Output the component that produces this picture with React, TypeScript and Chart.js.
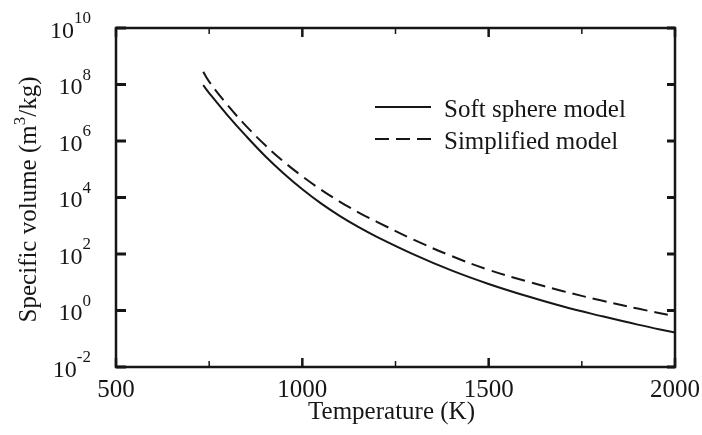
import React, { useEffect, useRef } from "react";
import { Chart, registerables } from "chart.js";

Chart.register(...registerables);

// Temperature (K)
const temperatures = [734, 750, 800, 850, 900, 950, 1000, 1050, 1100, 1150, 1200, 1300, 1400, 1500, 1600, 1700, 1800, 1900, 2000];
// Specific volume (m^3/kg) — soft sphere model
const softSphere = [9.5e7, 5.0e7, 7.94e6, 1.45e6, 2.95e5, 7.08e4, 1.95e4, 6.17e3, 2.24e3, 912, 407, 95.5, 26.3, 8.7, 3.31, 1.38, 0.646, 0.316, 0.166];
// Specific volume (m^3/kg) — simplified model
const simplified = [2.8e8, 1.26e8, 1.82e7, 3.3e6, 7.2e5, 1.86e5, 5.6e4, 1.9e4, 7.2e3, 3.0e3, 1.38e3, 316, 85, 27.5, 11, 4.8, 2.3, 1.17, 0.63];

const xMajorTicks = [500, 1000, 1500, 2000];
const xMinorTicks = [750, 1250, 1750];
const yTickExponents = [-2, 0, 2, 4, 6, 8, 10];

const seriesNames = ["Soft sphere model", "Simplified model"];
const xTitle = "Temperature (K)";
const yTitleMain = "Specific volume (m";
const yTitleSup = "3";
const yTitleEnd = "/kg)";

const FONT = '"Liberation Serif", "Times New Roman", serif';
const INK = "#161616";
const DASH = [14, 7];

const framePlugin = {
  id: "framePlugin",
  afterDraw(chart: any) {
    const ctx: CanvasRenderingContext2D = chart.ctx;
    const { left, right, top, bottom } = chart.chartArea;
    const xs = chart.scales.x;
    const ys = chart.scales.y;
    ctx.save();
    ctx.strokeStyle = INK;
    ctx.fillStyle = INK;

    // frame
    ctx.lineWidth = 2.5;
    ctx.strokeRect(left, top, right - left, bottom - top);

    // x ticks
    const drawXTick = (v: number, len: number, w: number) => {
      const px = xs.getPixelForValue(v);
      ctx.lineWidth = w;
      ctx.beginPath();
      ctx.moveTo(px, bottom);
      ctx.lineTo(px, bottom - len);
      ctx.moveTo(px, top);
      ctx.lineTo(px, top + len);
      ctx.stroke();
    };
    xMajorTicks.forEach((v) => drawXTick(v, 9, 2.5));
    xMinorTicks.forEach((v) => drawXTick(v, 6, 1.5));

    // y ticks
    yTickExponents.forEach((e) => {
      const py = ys.getPixelForValue(Math.pow(10, e));
      ctx.lineWidth = 3;
      ctx.beginPath();
      ctx.moveTo(left, py);
      ctx.lineTo(left + 10, py);
      ctx.moveTo(right, py);
      ctx.lineTo(right - 8, py);
      ctx.stroke();
    });

    // x tick labels
    ctx.font = `25px ${FONT}`;
    ctx.textAlign = "center";
    ctx.textBaseline = "alphabetic";
    xMajorTicks.forEach((v) => {
      ctx.fillText(String(v), xs.getPixelForValue(v), bottom + 30);
    });

    // y tick labels 10^e
    const labelRight = left - 25;
    yTickExponents.forEach((e) => {
      const py = ys.getPixelForValue(Math.pow(10, e));
      const expStr = e < 0 ? "-" + Math.abs(e) : String(e);
      ctx.textAlign = "right";
      ctx.font = `17px ${FONT}`;
      const ew = ctx.measureText(expStr).width;
      ctx.fillText(expStr, labelRight, py - 5);
      ctx.font = `24px ${FONT}`;
      ctx.fillText("10", labelRight - ew, py + 9.5);
    });

    // x title
    ctx.font = `25px ${FONT}`;
    ctx.textAlign = "center";
    ctx.fillText(xTitle, (left + right) / 2 - 4, 419);

    // y title (rotated)
    ctx.save();
    ctx.translate(36, (top + bottom) / 2 + 2);
    ctx.rotate(-Math.PI / 2);
    ctx.font = `25px ${FONT}`;
    const w1 = ctx.measureText(yTitleMain).width;
    const w3 = ctx.measureText(yTitleEnd).width;
    ctx.font = `17px ${FONT}`;
    const w2 = ctx.measureText(yTitleSup).width;
    const total = w1 + w2 + w3;
    let cx = -total / 2;
    ctx.textAlign = "left";
    ctx.font = `25px ${FONT}`;
    ctx.fillText(yTitleMain, cx, 0);
    cx += w1;
    ctx.font = `17px ${FONT}`;
    ctx.fillText(yTitleSup, cx, -11);
    cx += w2;
    ctx.font = `25px ${FONT}`;
    ctx.fillText(yTitleEnd, cx, 0);
    ctx.restore();

    // legend
    const legendY = [107, 139];
    chart.data.datasets.forEach((ds: any, i: number) => {
      ctx.lineWidth = 2;
      ctx.setLineDash(ds.borderDash || []);
      ctx.beginPath();
      ctx.moveTo(375, legendY[i]);
      ctx.lineTo(431, legendY[i]);
      ctx.stroke();
      ctx.setLineDash([]);
      ctx.font = `25px ${FONT}`;
      ctx.textAlign = "left";
      ctx.fillText(seriesNames[i], 444, legendY[i] + 9.5);
    });

    ctx.restore();
  },
};

export default function App() {
  const ref = useRef<HTMLCanvasElement>(null);
  useEffect(() => {
    document.body.style.margin = "0";
    const canvas = ref.current;
    if (!canvas) return;
    const chart = new Chart(canvas, {
      type: "line",
      data: {
        datasets: [
          {
            label: seriesNames[0],
            data: temperatures.map((t, i) => ({ x: t, y: softSphere[i] })),
            borderColor: INK,
            borderWidth: 2,
            pointRadius: 0,
            tension: 0.4,
            fill: false,
          },
          {
            label: seriesNames[1],
            data: temperatures.map((t, i) => ({ x: t, y: simplified[i] })),
            borderColor: INK,
            borderWidth: 2,
            borderDash: DASH,
            pointRadius: 0,
            tension: 0.4,
            fill: false,
          },
        ],
      },
      options: {
        animation: false,
        responsive: false,
        maintainAspectRatio: false,
        layout: { padding: { left: 116, right: 27, top: 28, bottom: 68 } },
        plugins: { legend: { display: false }, tooltip: { enabled: false } },
        scales: {
          x: { type: "linear", min: 500, max: 2000, display: false },
          y: { type: "logarithmic", min: 1e-2, max: 1e10, display: false },
        },
      },
      plugins: [framePlugin],
    } as any);
    return () => chart.destroy();
  }, []);
  return (
    <div style={{ width: 702, height: 435 }}>
      <canvas ref={ref} width={702} height={435} style={{ display: "block" }} />
    </div>
  );
}
